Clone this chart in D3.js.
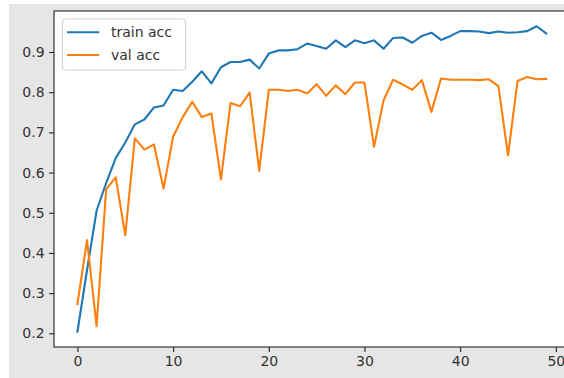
<!DOCTYPE html>
<html><head><meta charset="utf-8">
<script src="https://cdn.jsdelivr.net/npm/d3@7"></script>
<style>body{margin:0;background:#fff}svg{display:block}</style>
</head><body>
<svg id="c" width="564" height="378"></svg>
<script>
const epochs = d3.range(0, 50);
const trainAcc = [0.204,0.357,0.505,0.574,0.636,0.675,0.720,0.732,0.762,0.767,
  0.806,0.803,0.826,0.852,0.822,0.862,0.875,0.875,0.881,0.859,
  0.896,0.904,0.904,0.907,0.921,0.915,0.908,0.929,0.912,0.929,
  0.922,0.929,0.908,0.935,0.936,0.923,0.940,0.948,0.930,0.940,
  0.952,0.952,0.951,0.947,0.951,0.948,0.949,0.952,0.964,0.946];
const valAcc = [0.273,0.432,0.218,0.558,0.588,0.444,0.685,0.657,0.670,0.560,
  0.689,0.738,0.776,0.738,0.747,0.583,0.773,0.765,0.799,0.604,
  0.806,0.806,0.803,0.806,0.797,0.820,0.791,0.817,0.795,0.824,
  0.824,0.664,0.780,0.831,0.819,0.806,0.830,0.751,0.834,0.831,
  0.831,0.831,0.830,0.832,0.815,0.643,0.828,0.838,0.832,0.833];
const xTicks = [0,10,20,30,40,50];
const yTicks = [0.2,0.3,0.4,0.5,0.6,0.7,0.8,0.9];
const seriesNames = ["train acc","val acc"];
const colors = ["#1f77b4","#ff7f0e"];

const svg = d3.select("#c");
const font = "DejaVu Sans, sans-serif";
const L = 54, R = 569.7, T = 11, B = 347;

svg.append("rect").attr("x",9).attr("y",4).attr("width",564-9).attr("height",378-4).attr("fill","#e6e6e6");
svg.append("rect").attr("x",L).attr("y",T).attr("width",R-L).attr("height",B-T).attr("fill","#fff");

const xmin = 0, xmax = 49, xm = (xmax-xmin)*0.05;
const x = d3.scaleLinear().domain([xmin-xm, xmax+xm]).range([L, R]);
const all = trainAcc.concat(valAcc);
const ymn = d3.min(all), ymx = d3.max(all), ym = (ymx-ymn)*0.05;
const y = d3.scaleLinear().domain([ymn-ym, ymx+ym]).range([B, T]);

const line = d3.line().x((d,i)=>x(epochs[i])).y(d=>y(d));
[trainAcc, valAcc].forEach((s,k)=>{
  svg.append("path").datum(s).attr("d", line).attr("fill","none")
    .attr("stroke", colors[k]).attr("stroke-width",2.1)
    .attr("stroke-linejoin","round").attr("stroke-linecap","square");
});

// spines
svg.append("rect").attr("x",L).attr("y",T).attr("width",R-L).attr("height",B-T)
  .attr("fill","none").attr("stroke","#222").attr("stroke-width",1.1);

const xAxis = d3.axisBottom(x).tickValues(xTicks).tickSize(4.9).tickPadding(4).tickFormat(d3.format("d"));
const gx = svg.append("g").attr("transform",`translate(0,${B})`).call(xAxis);
const yAxis = d3.axisLeft(y).tickValues(yTicks).tickSize(4.9).tickPadding(4.5).tickFormat(d3.format(".1f"));
const gy = svg.append("g").attr("transform",`translate(${L},0)`).call(yAxis);
[gx,gy].forEach(g=>{
  g.select(".domain").remove();
  g.selectAll("line").attr("stroke","#222").attr("stroke-width",1.1);
  g.selectAll("text").attr("fill","#333").style("font-family",font).style("font-size","14px");
});

// legend
const lg = svg.append("g");
lg.append("rect").attr("x",62.5).attr("y",19).attr("width",123).attr("height",51).attr("rx",3)
  .attr("fill","#fff").attr("fill-opacity",0.8).attr("stroke","#d0d0d0").attr("stroke-width",1);
seriesNames.forEach((n,k)=>{
  const cy = 32.3 + k*22.7;
  lg.append("line").attr("x1",67).attr("x2",99.3).attr("y1",cy).attr("y2",cy)
    .attr("stroke",colors[k]).attr("stroke-width",2.1);
  lg.append("text").attr("x",111).attr("y",cy).attr("dy","0.36em").text(n)
    .attr("fill","#333").style("font-family",font).style("font-size","14px");
});
</script>
</body></html>
